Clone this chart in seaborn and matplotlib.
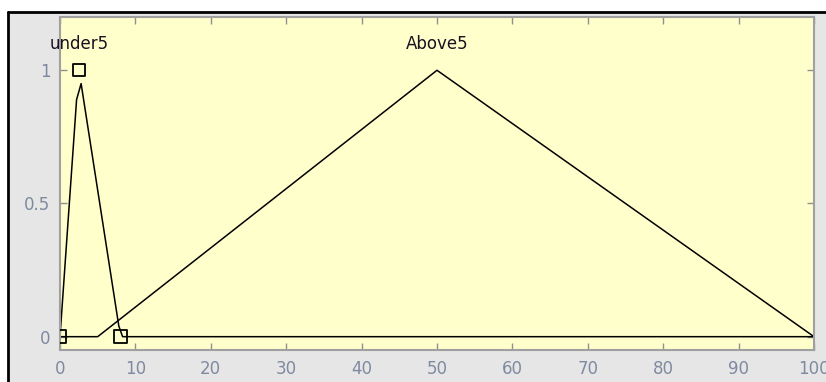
import matplotlib
matplotlib.use("Agg")
import matplotlib.pyplot as plt
import seaborn as sns
import pandas as pd
from matplotlib.patches import Rectangle
from matplotlib.lines import Line2D

# --- data ---
under5_x = [0, 2.2, 2.8, 7.8, 8.3, 100]
under5_y = [0, 0.89, 0.95, 0.04, 0, 0]
above5_x = [0, 5, 50, 100]
above5_y = [0, 0, 1, 0]
marker_x = [0, 2.5, 8]
marker_y = [0, 1, 0]
label_names = ["under5", "Above5"]
label_x = [2.6, 50]
label_y = [1.1, 1.1]
x_ticks = [0, 10, 20, 30, 40, 50, 60, 70, 80, 90, 100]
y_ticks = [0, 0.5, 1]
y_tick_labels = ["0", "0.5", "1"]

sns.set_theme(style="white")
plt.rcParams["font.family"] = ["DejaVu Sans"]

W, H = 826, 382
fig = plt.figure(figsize=(W / 100, H / 100), dpi=100, facecolor="white")

# outer gray panel with black border on top and left
panel = Rectangle((8 / W, 0), 1.0, 1 - 12 / H, transform=fig.transFigure,
                  facecolor="#e6e6e6", edgecolor="none", zorder=-10)
fig.add_artist(panel)
fig.add_artist(Line2D([8 / W, 1], [1 - 12 / H, 1 - 12 / H], transform=fig.transFigure,
                      color="black", linewidth=2, zorder=-5))
fig.add_artist(Line2D([8 / W, 8 / W], [0, 1 - 12 / H], transform=fig.transFigure,
                      color="black", linewidth=2, zorder=-5))

ax = fig.add_axes([60 / W, (H - 350) / H, (814 - 60) / W, (350 - 17) / H])
ax.set_zorder(5)
ax.set_facecolor("#ffffcc")

df_u = pd.DataFrame({"x": under5_x, "y": under5_y})
df_a = pd.DataFrame({"x": above5_x, "y": above5_y})
sns.lineplot(data=df_u, x="x", y="y", ax=ax, color="black", linewidth=1.1,
             sort=False, estimator=None)
sns.lineplot(data=df_a, x="x", y="y", ax=ax, color="black", linewidth=1.1,
             sort=False, estimator=None)
df_m = pd.DataFrame({"x": marker_x, "y": marker_y})
sns.scatterplot(data=df_m, x="x", y="y", ax=ax, marker="s", s=80,
                facecolor="none", edgecolor="black", linewidth=1.3, zorder=5)

for name, tx, ty in zip(label_names, label_x, label_y):
    ax.text(tx, ty, name, ha="center", va="center", fontsize=12, color="#1a1020")

ax.set_xlim(0, 100)
ax.set_ylim(-0.05, 1.2)
ax.set_xticks(x_ticks)
ax.set_xticklabels([str(t) for t in x_ticks])
ax.set_yticks(y_ticks)
ax.set_yticklabels(y_tick_labels)
ax.set_xlabel("")
ax.set_ylabel("")
ax.tick_params(direction="in", length=5, width=1, color="#909090",
               labelcolor="#7f8aa0", labelsize=12, top=True, right=True,
               bottom=True, left=True, pad=7)
for s in ax.spines.values():
    s.set_color("#a0a0a0")
    s.set_linewidth(1.5)
    s.set_visible(True)

fig.savefig("out.png", dpi=100, facecolor="white")
